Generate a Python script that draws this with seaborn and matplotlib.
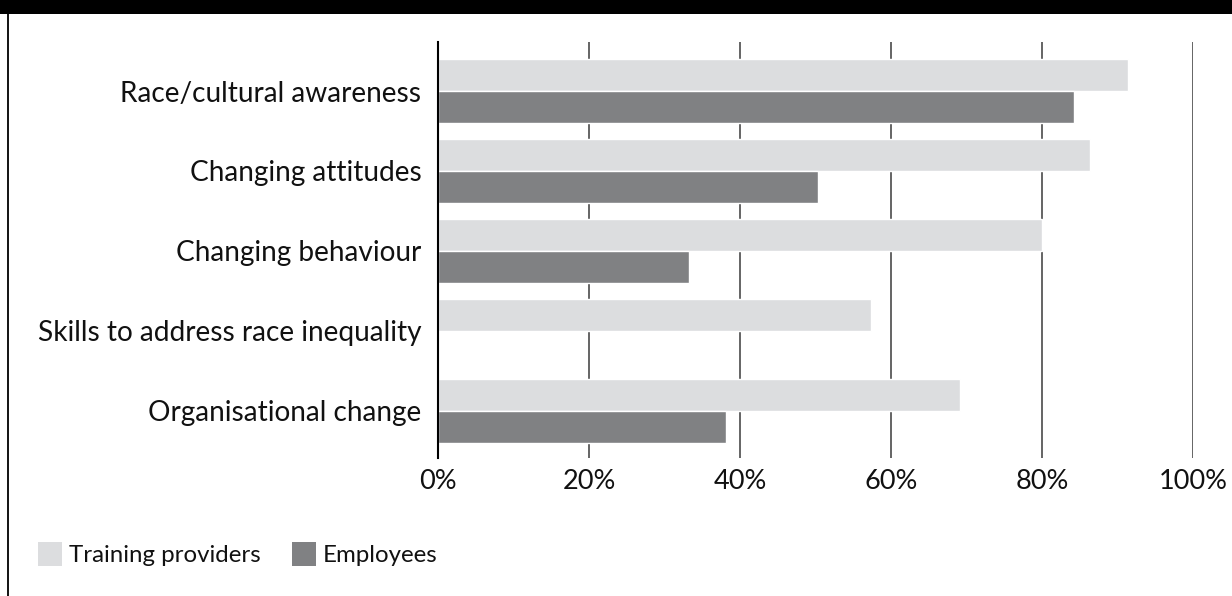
#bar chart of training goals, training providers vs employees
import pandas as pd
import numpy as np
import matplotlib
matplotlib.use('Agg')
import matplotlib.pyplot as plt
from matplotlib.patches import Rectangle, Patch
from matplotlib.lines import Line2D
import seaborn as sns

categories = ['Race/cultural awareness', 'Changing attitudes', 'Changing behaviour',
              'Skills to address race inequality', 'Organisational change']
providers = [91.4, 86.3, 80.0, 57.3, 69.2]
employees = [84.3, 50.3, 33.2, np.nan, 38.2]
groups = ['Training providers', 'Employees']
colours = ['#dcdddf', '#808183']
ticks = [0, 20, 40, 60, 80, 100]

df = pd.DataFrame({'cat': categories * 2,
                   'val': providers + employees,
                   'grp': [groups[0]] * 5 + [groups[1]] * 5})

sns.set_theme(style='white')
plt.rcParams['font.family'] = ['Lato', 'DejaVu Sans']

fig = plt.figure(figsize=(12.32, 5.96), dpi=100)
ax = fig.add_axes([438/1232, 1-458/596, (1193-438)/1232, (458-42)/596])

sns.barplot(data=df, x='val', y='cat', hue='grp', order=categories, hue_order=groups,
            palette=colours, width=0.81, saturation=1, ax=ax, legend=False, zorder=2)

ax.set_xlim(0, 100)
ax.set_ylim(4.5875, -0.6125)
ax.set_xticks(ticks)
ax.set_xticklabels([str(t) + '%' for t in ticks], fontsize=19.5, color='#111111')
ax.tick_params(axis='y', labelsize=20.2, labelcolor='#111111', length=0, pad=12)
ax.tick_params(axis='x', length=0, pad=8)
ax.set_xlabel('')
ax.set_ylabel('')
for t in ticks[1:]:
    ax.axvline(t, color='#4a4a4a', lw=1.2, zorder=1)
for s in ['top', 'right', 'bottom']:
    ax.spines[s].set_visible(False)
ax.spines['left'].set_color('black')
ax.spines['left'].set_linewidth(1.5)
ax.spines['left'].set_zorder(3)

#frame: black band at top and line on the left
fig.add_artist(Rectangle((0, 1-14/596), 1, 14/596, transform=fig.transFigure, color='black', lw=0))
fig.add_artist(Line2D([8/1232, 8/1232], [0, 1-14/596], transform=fig.transFigure, color='black', lw=1.3))

handles = [Patch(facecolor=c, edgecolor='none') for c in colours]
fig.legend(handles, groups, loc='center left', bbox_to_anchor=(16/1232, 1-554/596), ncol=2,
           frameon=False, fontsize=17.3, handlelength=1.0, handleheight=1.15, handletextpad=0.3,
           columnspacing=1.3, labelcolor='#111111')

fig.savefig('out.png', dpi=100)
